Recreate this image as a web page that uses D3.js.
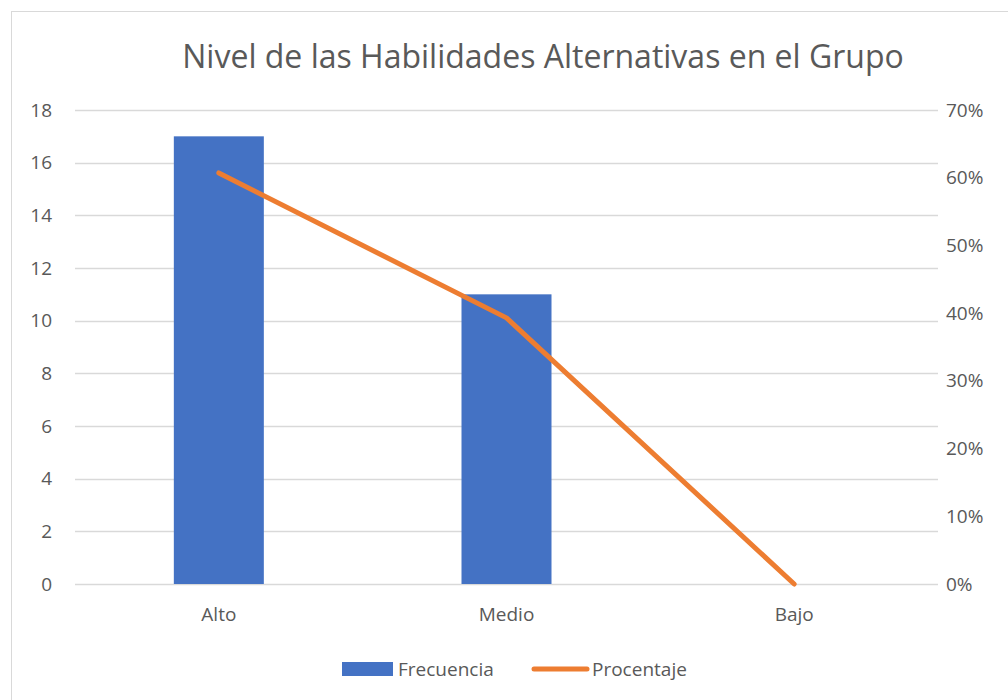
<!DOCTYPE html>
<html>
<head>
<meta charset="utf-8">
<script src="https://cdn.jsdelivr.net/npm/d3@7"></script>
<style>
  body { margin: 0; background: #fff; }
  text { font-family: "Open Sans", "Noto Sans", sans-serif; fill: #595959; }
</style>
</head>
<body>
<div id="chart"></div>
<script>
// data
const categories = ["Alto", "Medio", "Bajo"];
const frecuencia = [17, 11, 0];
const procentaje = [0.607, 0.393, 0];
const leftTicks = [0, 2, 4, 6, 8, 10, 12, 14, 16, 18];
const rightTicks = [0, 0.1, 0.2, 0.3, 0.4, 0.5, 0.6, 0.7];

const width = 1008, height = 700;
const plot = {left: 75, right: 938, top: 110, bottom: 584};
const labelSize = "19px";

const svg = d3.select("#chart").append("svg")
  .attr("width", width)
  .attr("height", height);

// chart frame
svg.append("rect")
  .attr("x", 11.5).attr("y", 11.5)
  .attr("width", 1010).attr("height", 700)
  .attr("fill", "#fff")
  .attr("stroke", "#d9d9d9");

const x = d3.scaleBand()
  .domain(categories)
  .range([plot.left, plot.right]);

const yLeft = d3.scaleLinear().domain([0, 18]).range([plot.bottom, plot.top]);
const yRight = d3.scaleLinear().domain([0, 0.7]).range([plot.bottom, plot.top]);

// gridlines
svg.append("g")
  .selectAll("line")
  .data(leftTicks)
  .enter().append("line")
  .attr("x1", plot.left).attr("x2", plot.right)
  .attr("y1", d => Math.round(yLeft(d)) + 0.5)
  .attr("y2", d => Math.round(yLeft(d)) + 0.5)
  .attr("stroke", "#d9d9d9")
  .attr("stroke-width", 1.5);

// left axis
const leftAxis = svg.append("g")
  .attr("transform", `translate(52,0)`)
  .call(d3.axisLeft(yLeft).tickValues(leftTicks).tickSize(0).tickPadding(0));
leftAxis.select(".domain").remove();
leftAxis.selectAll("text").style("font-size", labelSize).attr("fill", "#595959");

// right axis
const rightAxis = svg.append("g")
  .attr("transform", `translate(946,0)`)
  .call(d3.axisRight(yRight).tickValues(rightTicks).tickSize(0).tickPadding(0)
    .tickFormat(d3.format(".0%")));
rightAxis.select(".domain").remove();
rightAxis.selectAll("text").style("font-size", labelSize).attr("fill", "#595959");

// bottom axis
const bottomAxis = svg.append("g")
  .attr("transform", `translate(0,${plot.bottom + 23})`)
  .call(d3.axisBottom(x).tickSize(0).tickPadding(0));
bottomAxis.select(".domain").remove();
bottomAxis.selectAll("text").style("font-size", labelSize).attr("fill", "#595959");

// bars
const barWidth = 90;
svg.append("g")
  .selectAll("rect")
  .data(categories)
  .enter().append("rect")
  .attr("x", (d, i) => x(d) + x.bandwidth() / 2 - barWidth / 2)
  .attr("y", (d, i) => yLeft(frecuencia[i]))
  .attr("width", barWidth)
  .attr("height", (d, i) => yLeft(0) - yLeft(frecuencia[i]))
  .attr("fill", "#4472c4");

// line
const line = d3.line()
  .x((d, i) => x(categories[i]) + x.bandwidth() / 2)
  .y(d => yRight(d));
svg.append("path")
  .datum(procentaje)
  .attr("d", line)
  .attr("fill", "none")
  .attr("stroke", "#ed7d31")
  .attr("stroke-width", 5)
  .attr("stroke-linecap", "round")
  .attr("stroke-linejoin", "round");

// title
svg.append("text")
  .attr("x", 543)
  .attr("y", 68)
  .attr("text-anchor", "middle")
  .style("font-size", "32px")
  .text("Nivel de las Habilidades Alternativas en el Grupo");

// legend
const legend = svg.append("g");
legend.append("rect")
  .attr("x", 342).attr("y", 662)
  .attr("width", 51).attr("height", 14)
  .attr("fill", "#4472c4");
legend.append("text")
  .attr("x", 398).attr("y", 676)
  .style("font-size", labelSize)
  .text("Frecuencia");
legend.append("line")
  .attr("x1", 534).attr("x2", 587)
  .attr("y1", 669).attr("y2", 669)
  .attr("stroke", "#ed7d31")
  .attr("stroke-width", 5)
  .attr("stroke-linecap", "round");
legend.append("text")
  .attr("x", 592).attr("y", 676)
  .style("font-size", labelSize)
  .text("Procentaje");
</script>
</body>
</html>
